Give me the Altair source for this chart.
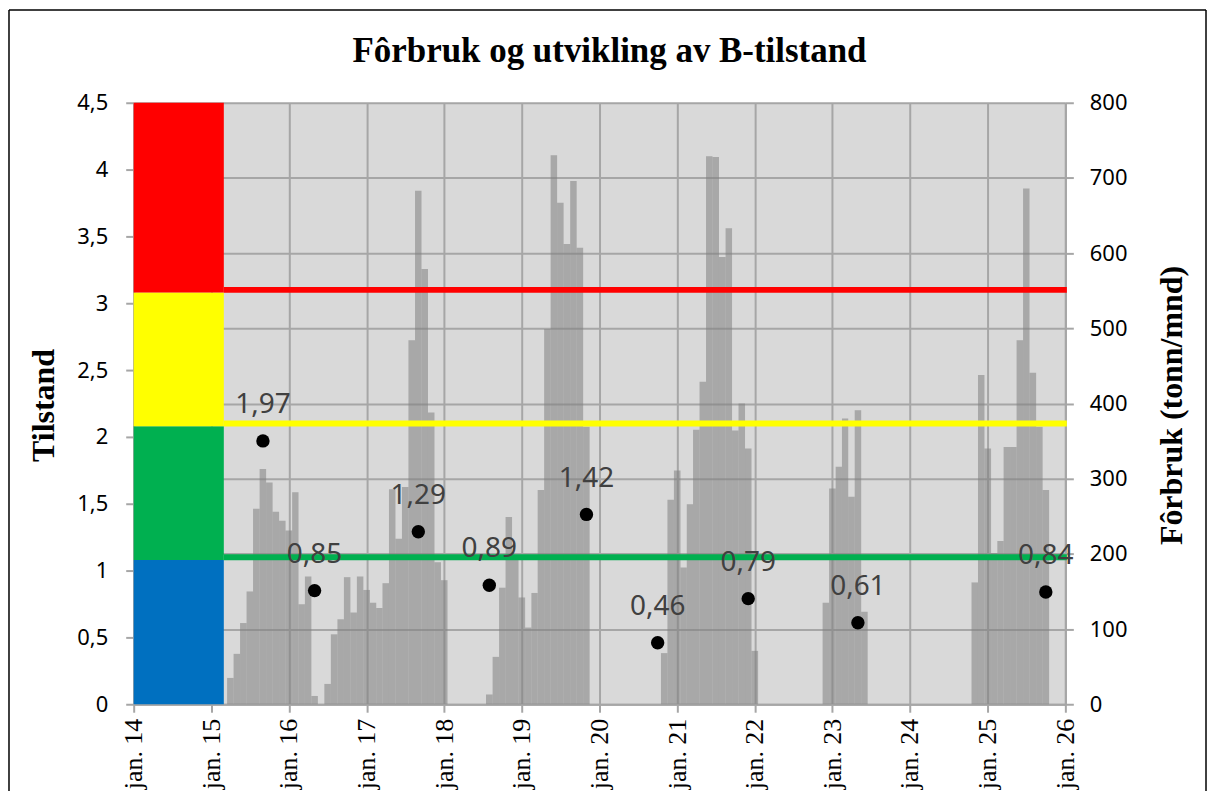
import altair as alt
import pandas as pd

# ---------------- data ----------------
# Monthly feed use (tonn/mnd), January..December
forbruk_2015 = [0, 0, 0, 35, 67, 108, 150, 260, 313, 295, 256, 244]
forbruk_2016 = [231, 282, 133, 170, 11, 0, 27, 93, 113, 169, 122, 170]
forbruk_2017 = [152, 135, 128, 161, 286, 220, 289, 484, 683, 579, 388, 189]
forbruk_2018 = [165, 0, 0, 0, 0, 0, 0, 13, 63, 155, 249, 192]
forbruk_2019 = [142, 102, 148, 285, 499, 730, 667, 612, 696, 607, 369, 0]
forbruk_2020 = [0, 0, 0, 0, 0, 0, 0, 0, 0, 0, 68, 272]
forbruk_2021 = [311, 182, 266, 365, 429, 729, 728, 595, 633, 364, 400, 340]
forbruk_2022 = [71, 0, 0, 0, 0, 0, 0, 0, 0, 0, 0, 135]
forbruk_2023 = [287, 316, 380, 276, 391, 123, 0, 0, 0, 0, 0, 0]
forbruk_2024 = [0, 0, 0, 0, 0, 0, 0, 0, 0, 0, 162, 438]
forbruk_2025 = [340, 201, 217, 342, 342, 484, 686, 441, 369, 285, 0, 0]

# B-tilstand measurements
tilstand_datoer = ["2015-09-01", "2016-05-01", "2017-09-01", "2018-08-01", "2019-11-01",
                   "2020-10-01", "2021-12-01", "2023-05-01", "2025-10-01"]
tilstand_verdier = [1.97, 0.85, 1.29, 0.89, 1.42, 0.46, 0.79, 0.61, 0.84]

# Condition zones (left block) and limit lines
sone_farger = ["#0070C0", "#00B050", "#FFFF00", "#FF0000"]
sone_nedre = [0, 1.08, 2.08, 3.08]
sone_ovre = [1.08, 2.08, 3.08, 4.5]
sone_start = "2014-01-01"
sone_slutt = "2015-03-01"

grense_verdier = [1.1, 2.1, 3.1]
grense_farger = ["#00B050", "#FFFF00", "#FF0000"]
grense_start = "2015-03-01"
grense_slutt = "2026-01-08"

aar_ticks = list(range(2014, 2027))
tilstand_ticks = [0, 0.5, 1, 1.5, 2, 2.5, 3, 3.5, 4, 4.5]
forbruk_ticks = [0, 100, 200, 300, 400, 500, 600, 700, 800]

# ---------------- tables ----------------
feed_by_year = {
    2015: forbruk_2015, 2016: forbruk_2016, 2017: forbruk_2017, 2018: forbruk_2018,
    2019: forbruk_2019, 2020: forbruk_2020, 2021: forbruk_2021, 2022: forbruk_2022,
    2023: forbruk_2023, 2024: forbruk_2024, 2025: forbruk_2025,
}
rows = []
for yr, vals in feed_by_year.items():
    for m, v in enumerate(vals, start=1):
        if v <= 0:
            continue
        d = pd.Timestamp(yr, m, 1)
        prev = d - pd.DateOffset(months=1)
        nxt = d + pd.DateOffset(months=1)
        rows.append({"dato": d, "start": d - (d - prev) / 2,
                     "slutt": d + (nxt - d) / 2, "forbruk": v})
bars_df = pd.DataFrame(rows)

sone_df = pd.DataFrame({
    "start": pd.to_datetime([sone_start] * 4),
    "slutt": pd.to_datetime([sone_slutt] * 4),
    "nedre": sone_nedre, "ovre": sone_ovre, "farge": sone_farger,
})
grense_df = pd.DataFrame({
    "start": pd.to_datetime([grense_start] * 3),
    "slutt": pd.to_datetime([grense_slutt] * 3),
    "verdi": grense_verdier, "farge": grense_farger,
})
punkt_df = pd.DataFrame({
    "dato": pd.to_datetime(tilstand_datoer),
    "verdi": tilstand_verdier,
    "tekst": [f"{v:.2f}".replace(".", ",") for v in tilstand_verdier],
})
one = pd.DataFrame({"k": [0]})

# ---------------- scales / axes ----------------
GRID = "#A6A6A6"
x_scale = alt.Scale(domain=[alt.DateTime(year=2014, month=1, date=1),
                            alt.DateTime(year=2026, month=1, date=1)], nice=False)
x_axis = alt.Axis(
    title=None,
    values=[alt.DateTime(year=y, month=1, date=1) for y in aar_ticks],
    labelExpr="'jan. ' + timeFormat(datum.value, '%y')",
    labelAngle=270, labelFont="Liberation Serif", labelFontSize=26, labelColor="black",
    labelPadding=6, labelFlush=False, labelOverlap=False,
    tickSize=8, tickColor=GRID, tickWidth=2,
    domainColor=GRID, domainWidth=2,
    grid=True, gridColor=GRID, gridWidth=2,
)
left_scale = alt.Scale(domain=[0, 4.5], nice=False, zero=True)
right_scale = alt.Scale(domain=[0, 800], nice=False, zero=True)

left_axis = alt.Axis(
    orient="left", title="Tilstand", values=tilstand_ticks,
    labelExpr="replace(format(datum.value, '.1~f'), '.', ',')",
    grid=False, tickSize=8, tickColor=GRID, tickWidth=2,
    domainColor=GRID, domainWidth=2,
    labelFont="Noto Sans", labelFontSize=22, labelColor="black", labelPadding=18,
    titleFont="Liberation Serif", titleFontSize=32, titleFontWeight="bold",
    titleColor="black", titleAngle=270, titleX=-90, titleY=303,
    titleBaseline="middle", titleAlign="center",
)
right_axis = alt.Axis(
    orient="right", title="Fôrbruk (tonn/mnd)", values=forbruk_ticks, format="d",
    grid=True, gridColor=GRID, gridWidth=2,
    tickSize=8, tickColor=GRID, tickWidth=2,
    domainColor=GRID, domainWidth=2,
    labelFont="Noto Sans", labelFontSize=22, labelColor="black", labelPadding=16,
    titleFont="Liberation Serif", titleFontSize=32, titleFontWeight="bold",
    titleColor="black", titleAngle=270, titleX=106, titleY=303,
    titleBaseline="middle", titleAlign="center",
)

# ---------------- layers ----------------
bars = alt.Chart(bars_df).mark_rect(color="#7F7F7F", opacity=0.55).encode(
    x=alt.X("start:T", scale=x_scale, axis=x_axis),
    x2="slutt:T",
    y=alt.Y("forbruk:Q", scale=right_scale, axis=right_axis),
    y2=alt.datum(0),
)

band = alt.Chart(sone_df).mark_rect().encode(
    x=alt.X("start:T", scale=x_scale, axis=x_axis),
    x2="slutt:T",
    y=alt.Y("nedre:Q", scale=left_scale, axis=left_axis),
    y2="ovre:Q",
    color=alt.Color("farge:N", scale=None),
)

rules = alt.Chart(grense_df).mark_rule(strokeWidth=6, strokeCap="butt").encode(
    x=alt.X("start:T", scale=x_scale, axis=x_axis),
    x2="slutt:T",
    y=alt.Y("verdi:Q", scale=left_scale, axis=None),
    color=alt.Color("farge:N", scale=None),
)

points = alt.Chart(punkt_df).mark_circle(size=180, color="black", opacity=1).encode(
    x=alt.X("dato:T", scale=x_scale, axis=x_axis),
    y=alt.Y("verdi:Q", scale=left_scale, axis=None),
)

labels = alt.Chart(punkt_df).mark_text(
    font="Noto Sans", fontSize=28, color="#404040", baseline="alphabetic",
    align="center", dy=-28,
).encode(
    x=alt.X("dato:T", scale=x_scale, axis=x_axis),
    y=alt.Y("verdi:Q", scale=left_scale, axis=None),
    text="tekst:N",
)

frame_left = alt.Chart(one).mark_rule(color="black", strokeWidth=1.5).encode(
    x=alt.value(-125), y=alt.value(-93), y2=alt.value(700))
frame_top = alt.Chart(one).mark_rule(color="black", strokeWidth=1.5).encode(
    x=alt.value(-125), x2=alt.value(1075), y=alt.value(-93))
frame_right = alt.Chart(one).mark_rule(color="black", strokeWidth=1.5).encode(
    x=alt.value(1075), y=alt.value(-93), y2=alt.value(700))

chart = (
    alt.layer(bars, band, rules, points, labels, frame_left, frame_top, frame_right)
    .resolve_scale(y="independent")
    .properties(
        width=934, height=603,
        padding={"left": 126, "top": 94, "right": 142, "bottom": 86},
        autosize=alt.AutoSizeParams(type="none"),
        background="white",
        # the title sits inside the frame line (which bounds the view near the top)
        title=alt.TitleParams(
            text="Fôrbruk og utvikling av B-tilstand",
            font="Liberation Serif", fontSize=35, fontWeight="bold", color="black",
            anchor="middle", frame="group", baseline="alphabetic", offset=-88, dx=10,
        ),
    )
    .configure_view(fill="#D9D9D9", stroke="transparent")
)

chart.save("out.html", embed_options={"renderer": "svg", "actions": False})
